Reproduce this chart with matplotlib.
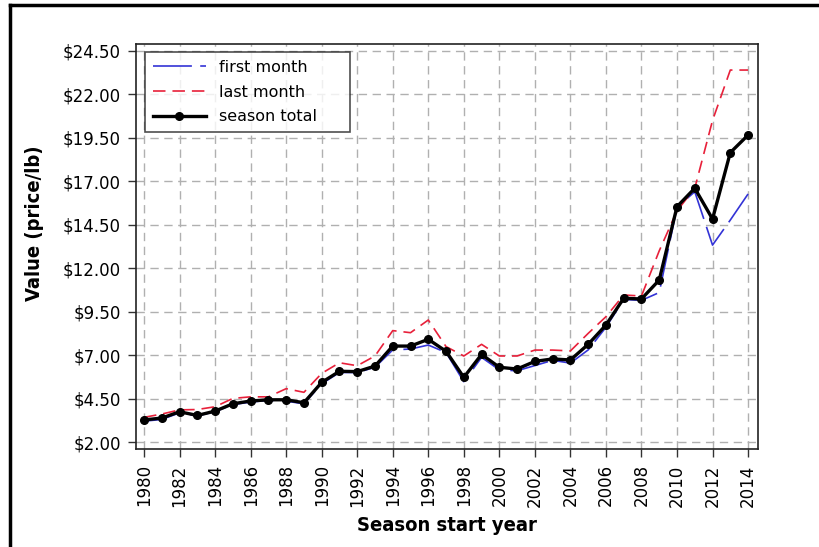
import matplotlib.pyplot as plt
import matplotlib.lines as mlines

years = list(range(1980, 2015))

season_total = [3.27, 3.38, 3.74, 3.53, 3.78, 4.20, 4.36, 4.43, 4.43, 4.26,
                5.43, 6.07, 6.05, 6.37, 7.52, 7.52, 7.91, 7.22, 5.72, 7.04,
                6.30, 6.20, 6.64, 6.78, 6.72, 7.62, 8.73, 10.27, 10.23, 11.32,
                15.54, 16.60, 14.83, 18.65, 19.66]

last_month = [3.42, 3.61, 3.85, 3.87, 4.03, 4.51, 4.60, 4.60, 5.07, 4.86,
              5.95, 6.56, 6.39, 6.95, 8.41, 8.29, 9.02, 7.49, 6.95, 7.62,
              6.95, 6.95, 7.29, 7.29, 7.24, 8.25, 9.21, 10.46, 10.40, 13.00,
              15.30, 16.60, 20.50, 23.40, 23.40]

first_month = [3.20, 3.30, 3.68, 3.50, 3.75, 4.15, 4.30, 4.40, 4.35, 4.20,
               5.35, 6.00, 6.00, 6.30, 7.30, 7.35, 7.58, 7.15, 5.47, 6.87,
               6.15, 6.10, 6.40, 6.70, 6.54, 7.30, 8.60, 10.20, 10.15, 10.60,
               15.50, 16.40, 13.33, 14.77, 16.27]

ytick_vals = [2.0, 4.5, 7.0, 9.5, 12.0, 14.5, 17.0, 19.5, 22.0, 24.5]
xtick_vals = list(range(1980, 2015, 2))

plt.rcParams['font.family'] = 'DejaVu Sans'
plt.rcParams['lines.scale_dashes'] = False

fig = plt.figure(figsize=(8.2, 5.47), dpi=100)
ax = fig.add_axes([0.1659, 0.1792, 0.7585, 0.7404])

ax.plot(years, first_month, color='#3333d6', lw=1.2, linestyle=(0, (28, 6)), label='first month')
ax.plot(years, last_month, color='#e8203a', lw=1.2, linestyle=(0, (9, 5)), label='last month')
ax.plot(years, season_total, color='black', lw=2.4, marker='o', markersize=5.5, label='season total')

ax.set_xlim(1979.55, 2014.56)
ax.set_ylim(1.6, 24.9)
ax.set_xticks(xtick_vals)
ax.set_xticklabels([str(x) for x in xtick_vals], rotation=90, fontsize=12)
ax.set_yticks(ytick_vals)
ax.set_yticklabels(['${:.2f}'.format(v) for v in ytick_vals], fontsize=12)
ax.tick_params(direction='out', length=6, width=1, color='#333333', pad=5)

ax.grid(True, color='#b0b0b0', linestyle=(0, (6, 4)), lw=1)
ax.set_axisbelow(True)
for s in ax.spines.values():
    s.set_color('#222222')
    s.set_linewidth(1.2)

ax.set_xlabel('Season start year', fontsize=14.5, fontweight='bold',
              fontstretch='condensed', labelpad=7)
ax.set_ylabel('Value (price/lb)', fontsize=14.5, fontweight='bold',
              fontstretch='condensed')
ax.yaxis.set_label_coords(-0.148, 0.558)

leg = ax.legend(loc='upper left', bbox_to_anchor=(0.0145, 0, 0.3296, 0.980),
                mode='expand', fontsize=11.5, frameon=True, fancybox=False,
                edgecolor='#222222', borderaxespad=0, handlelength=3.3,
                labelspacing=0.6, borderpad=0.5)
leg.get_frame().set_linewidth(1.2)

# figure frame: black lines on top and left edges
fig.add_artist(mlines.Line2D([10 / 820, 1], [1 - 5 / 547, 1 - 5 / 547],
                             transform=fig.transFigure, color='black', lw=2.5))
fig.add_artist(mlines.Line2D([10 / 820, 10 / 820], [0, 1 - 5 / 547],
                             transform=fig.transFigure, color='black', lw=2.5))

fig.savefig('out.png', dpi=100)
